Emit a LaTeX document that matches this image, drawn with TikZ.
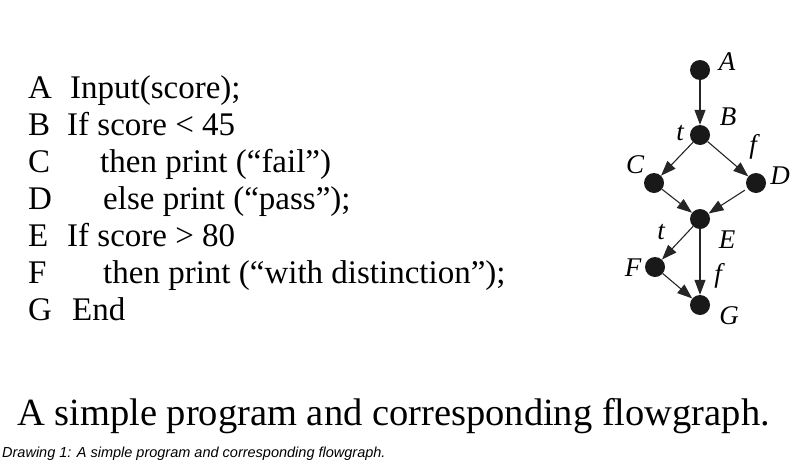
\documentclass[tikz,border=0pt]{standalone}
\usepackage{fontspec}
\setmainfont{Liberation Serif}
\newfontfamily\capfont{Liberation Sans}
\usetikzlibrary{arrows.meta}
\begin{document}
\begin{tikzpicture}[x=1pt,y=-1pt,
 dot/.style={circle,fill=black!90,inner sep=0,minimum size=20pt},
 lab/.style={font=\fontsize{27}{27}\selectfont\itshape,inner sep=0},
 code/.style={anchor=base west,inner sep=0,font=\fontsize{33}{33}\selectfont},
 flow/.style={-{Triangle[length=15pt,width=11pt]},line width=1.1pt,black!85}]
\useasboundingbox (0,0) rectangle (808,461);
% code lines
\node[code] (la) at (28,98) {A};  \node[code] (ta) at (70,98) {Input(score);};
\node[code] (lb) at (28,135) {B}; \node[code] (tb) at (67,135) {If score < 45};
\node[code] (lc) at (28,172) {C}; \node[code] (tc) at (100,172) {then print (“fail”)};
\node[code] (ld) at (28,209) {D}; \node[code] (td) at (103,209) {else print (“pass”);};
\node[code] (le) at (28,246) {E}; \node[code] (te) at (67,246) {If score > 80};
\node[code] (lf) at (28,283) {F}; \node[code] (tf) at (103,283) {then print (“with distinction”);};
\node[code] (lg) at (28,320) {G}; \node[code] (tg) at (72,320) {End};
% graph
\node[dot] (A) at (700,70) {};
\node[dot] (B) at (700,135) {};
\node[dot] (C) at (654,183) {};
\node[dot] (D) at (756,183) {};
\node[dot] (E) at (700,219) {};
\node[dot] (F) at (655,267) {};
\node[dot] (G) at (700,305) {};
\draw[flow] (A) -- (B);
\draw[flow] (B) -- (C);
\draw[flow] (B) -- (D);
\draw[flow] (C) -- (E);
\draw[flow,shorten <=3pt] (D) -- (E);
\draw[flow] (E) -- (F);
\draw[flow] (E) -- (G);
\draw[flow] (F) -- (G);
\node[lab] (nA) at (727,62) {A};
\node[lab] (nB) at (728,117) {B};
\node[lab] (nC) at (635,165) {C};
\node[lab] (nD) at (780,176) {D};
\node[lab] (nE) at (727,240) {E};
\node[lab] (nF) at (633,268) {F};
\node[lab] (nG) at (729,316) {G};
\node[lab] (t1) at (680,133) {t};
\node[lab] (f1) at (753,147) {f};
\node[lab] (t2) at (661,232) {t};
\node[lab] (f2) at (718,276) {f};
% captions
\node[anchor=base west,inner sep=0,font=\fontsize{38.5}{38.5}\selectfont] (cap) at (17,425) {A simple program and corresponding flowgraph.};
\node[anchor=base west,inner sep=0,font=\capfont\fontsize{14.5}{14.5}\selectfont\itshape] (cap2) at (2,457) {Drawing 1: A simple program and corresponding flowgraph.};
\end{tikzpicture}
\end{document}
